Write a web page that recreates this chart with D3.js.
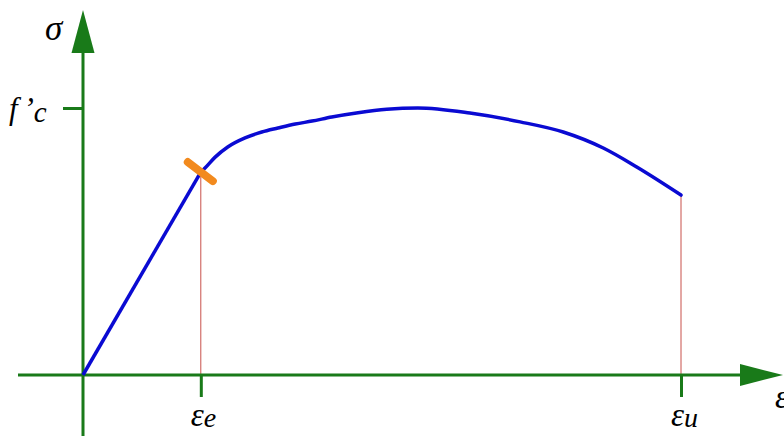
<!DOCTYPE html>
<html>
<head>
<meta charset="utf-8">
<script src="https://cdn.jsdelivr.net/npm/d3@7"></script>
<style>
  body { margin: 0; background: #fff; }
  svg { display: block; }
  .lbl { font-family: "Liberation Serif", "DejaVu Serif", serif; font-style: italic; fill: #000; }
</style>
</head>
<body>
<script>
var width = 784,
    height = 436;

// stress-strain curve, strain normalised to eps_u, stress to f'c
var strain = [0, 0.197];
var stress = [0, 0.760];
var curveStrain = [0.197, 0.204, 0.221, 0.242, 0.271, 0.299, 0.326, 0.355, 0.383, 0.416, 0.46, 0.508, 0.56, 0.647, 0.731, 0.803, 0.870, 0.926, 1.0];
var curveStress = [0.760, 0.775, 0.816, 0.854, 0.888, 0.910, 0.925, 0.940, 0.951, 0.966, 0.982, 0.995, 1.0, 0.981, 0.948, 0.910, 0.850, 0.779, 0.674];

var epsE = 0.197,
    epsU = 1.0,
    fc = 1.0;

var xTicks = [epsE, epsU];
var xTickLabels = [["ε", "e"], ["ε", "u"]];
var yTicks = [fc];

var green = "#197a19",
    blue = "#0a0ad2",
    orange = "#f28a1e",
    red = "#c8504a";

var x = d3.scaleLinear().domain([0, 1]).range([83, 681]);
var y = d3.scaleLinear().domain([0, 1]).range([375, 108]);

var svg = d3.select("body").append("svg")
    .attr("width", width)
    .attr("height", height);

// drop lines from the curve to the strain axis
svg.append("g").selectAll("line")
    .data([[epsE, curveStress[0]], [epsU, curveStress[curveStress.length - 1]]])
  .enter().append("line")
    .attr("x1", function(d) { return x(d[0]); })
    .attr("x2", function(d) { return x(d[0]); })
    .attr("y1", y(0))
    .attr("y2", function(d) { return y(d[1]); })
    .attr("stroke", red)
    .attr("stroke-width", 1);

// axes
svg.append("line")
    .attr("x1", 18).attr("x2", 742)
    .attr("y1", y(0)).attr("y2", y(0))
    .attr("stroke", green).attr("stroke-width", 3);

svg.append("line")
    .attr("x1", x(0)).attr("x2", x(0))
    .attr("y1", height).attr("y2", 51)
    .attr("stroke", green).attr("stroke-width", 3);

svg.append("path")
    .attr("d", "M740," + (y(0) - 11) + "L783," + y(0) + "L740," + (y(0) + 11) + "Z")
    .attr("fill", green);

svg.append("path")
    .attr("d", "M" + (x(0) - 11.5) + ",53L" + x(0) + ",10L" + (x(0) + 11.5) + ",53Z")
    .attr("fill", green);

var xAxis = svg.append("g")
    .attr("transform", "translate(0," + y(0) + ")")
    .call(d3.axisBottom(x).tickValues(xTicks).tickSize(22).tickFormat(""));
xAxis.select(".domain").remove();
xAxis.selectAll(".tick line").attr("stroke", green).attr("stroke-width", 3);

var yAxis = svg.append("g")
    .attr("transform", "translate(" + x(0) + ",0)")
    .call(d3.axisLeft(y).tickValues(yTicks).tickSize(20).tickFormat(""));
yAxis.select(".domain").remove();
yAxis.selectAll(".tick line").attr("stroke", green).attr("stroke-width", 3);

// curve
var line = d3.line()
    .x(function(d) { return x(d[0]); })
    .y(function(d) { return y(d[1]); });

svg.append("path")
    .datum(d3.zip(strain, stress))
    .attr("d", line)
    .attr("fill", "none")
    .attr("stroke", blue)
    .attr("stroke-width", 3.5);

svg.append("path")
    .datum(d3.zip(curveStrain, curveStress))
    .attr("d", line.curve(d3.curveMonotoneX))
    .attr("fill", "none")
    .attr("stroke", blue)
    .attr("stroke-width", 3.5)
    .attr("stroke-linecap", "round");

// elastic limit marker
var mx = x(epsE), my = y(curveStress[0]);
svg.append("line")
    .attr("x1", mx - 13).attr("y1", my - 10)
    .attr("x2", mx + 12).attr("y2", my + 9)
    .attr("stroke", orange)
    .attr("stroke-width", 8)
    .attr("stroke-linecap", "round");

// labels
var xl = svg.append("g").selectAll("text")
    .data(xTicks)
  .enter().append("text")
    .attr("class", "lbl")
    .attr("x", function(d) { return x(d) - 10; })
    .attr("y", 426)
    .style("font-size", "33px");
xl.append("tspan").text(function(d, i) { return xTickLabels[i][0]; });
xl.append("tspan").attr("dy", 1).style("font-size", "28px").text(function(d, i) { return xTickLabels[i][1]; });

svg.append("text").attr("class", "lbl")
    .attr("x", 45).attr("y", 40)
    .style("font-size", "35px")
    .text("σ");

svg.append("text").attr("class", "lbl")
    .attr("x", 775).attr("y", 408)
    .style("font-size", "33px")
    .text("ε");

var fl = svg.append("text").attr("class", "lbl")
    .attr("x", 9).attr("y", y(fc) + 11)
    .style("font-size", "31px");
fl.append("tspan").text("f");
fl.append("tspan").attr("dx", 3).text("’");
fl.append("tspan").attr("dy", 3).style("font-size", "29px").text("c");
</script>
</body>
</html>
